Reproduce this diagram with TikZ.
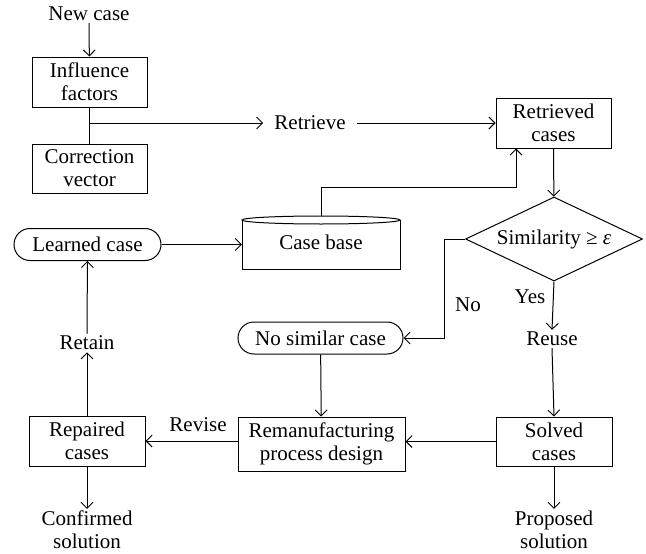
\documentclass[tikz,border=0pt]{standalone}
\usepackage{fontspec}
\setmainfont{Liberation Serif}
\usetikzlibrary{arrows.meta,shapes.geometric,shapes.misc}
\begin{document}
\begin{tikzpicture}[x=1pt,y=-1pt,
 every node/.style={font=\fontsize{21}{23}\selectfont},
 box/.style={draw,line width=1pt,minimum width=115pt,minimum height=50pt,inner sep=0pt,align=center},
 pill/.style={draw,line width=1pt,rounded rectangle,inner sep=0pt,minimum height=32pt},
 lbl/.style={inner sep=2pt,align=center},
 link/.style={line width=1pt},
 arr/.style={link,-{Straight Barb[length=6pt,width=12pt,line width=0.9pt]}}]
\useasboundingbox (0,0) rectangle (646,554);
% nodes
\node[lbl] (newcase) at (89,14) {New case};
\node[box] (infl) at (89.5,82) {Influence\\factors};
\node[box,minimum height=49pt] (corr) at (89.5,168.5) {Correction\\vector};
\coordinate (j) at (89.5,123);
\node[lbl,inner xsep=11pt] (retrieve) at (310,123) {Retrieve};
\node[box] (retr) at (553.5,123) {Retrieved\\cases};
% case base cylinder
\node[inner sep=0pt,minimum width=158pt,minimum height=53pt] (cb) at (321,242.5) {Case base};
\draw[link] (242,220) -- (242,269) -- (400,269) -- (400,220);
\draw[link] (321,220) ellipse [x radius=79, y radius=4];
\node[pill,minimum width=147pt] (learned) at (87.5,244.5) {Learned case};
\node[draw,line width=1pt,diamond,aspect=2.1,inner sep=0pt,minimum width=177pt,minimum height=84pt] (sim) at (554,239) {Similarity ≥ \textit{ε}};
\node[lbl] (yes) at (530,297) {Yes};
\node[lbl] (no) at (468,305) {No};
\node[pill,minimum width=165pt] (nosim) at (320.5,338) {No similar case};
\node[lbl] (reuse) at (552,339) {Reuse};
\node[lbl] (retain) at (87,343) {Retain};
\node[box,minimum width=167pt,minimum height=54pt] (reman) at (321.5,444) {Remanufacturing\\process design};
\node[box,minimum width=116pt] (repaired) at (87,441) {Repaired\\cases};
\node[box,minimum width=116pt,minimum height=49pt] (solved) at (554,441.5) {Solved\\cases};
\node[lbl] (revise) at (198,425) {Revise};
\node[lbl] (confirmed) at (87,530) {Confirmed\\solution};
\node[lbl] (proposed) at (554,530) {Proposed\\solution};
% connectors
\draw[arr] (newcase) -- (infl);
\draw[link] (infl) -- (corr);
\draw[arr] (j) -- (retrieve.west);
\draw[arr] (retrieve.east) -- (retr.west);
\draw[arr] (cb.north) -- ++(0,-28) -| ([xshift=-37.5pt]retr.south);
\draw[arr] (retr) -- (sim);
\draw[arr] (learned.east) -- (learned.east -| cb.west);
\draw[arr] (sim.west) -- ++(-21,0) |- (nosim.east);
\draw[arr] (sim.south) -- (reuse.north);
\draw[arr] (reuse.south) -- (solved.north);
\draw[arr] (solved.west) -- (reman.east |- solved.west);
\draw[arr] (nosim) -- (reman);
\draw[arr] (reman.west |- repaired.east) -- (repaired.east);
\draw[arr] (repaired) -- (retain);
\draw[arr] (retain) -- (learned);
\draw[arr] (repaired) -- (confirmed);
\draw[arr] (solved) -- (proposed);
\end{tikzpicture}
\end{document}
